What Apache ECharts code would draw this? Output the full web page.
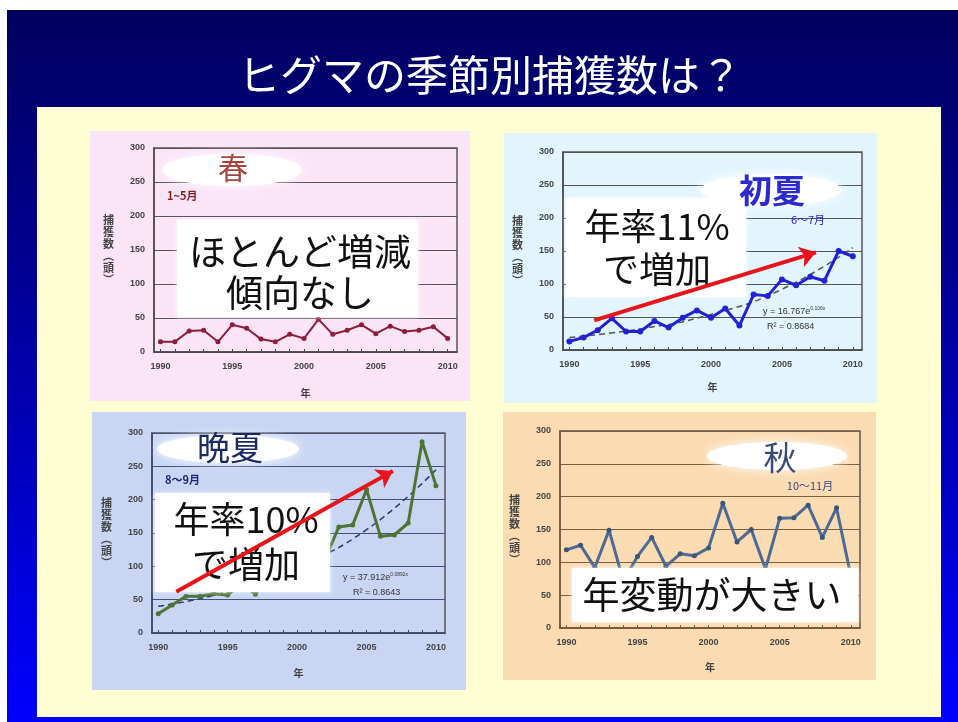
<!DOCTYPE html>
<html><head><meta charset="utf-8">
<script src="https://cdn.jsdelivr.net/npm/echarts@6/dist/echarts.min.js"></script>
<style>html,body{margin:0;padding:0;background:#fff}#c{width:958px;height:722px}</style>
</head><body><div id="c"></div>
<script>
// ---- data ----
const years = [1990,1991,1992,1993,1994,1995,1996,1997,1998,1999,2000,2001,2002,2003,2004,2005,2006,2007,2008,2009,2010];
const xLabelYears = [1990,1995,2000,2005,2010];
const spring      = [15,15,31,32,15,40,35,19,15,26,20,48,26,32,40,27,38,30,32,37,20];
const earlySummer = [13,19,30,48,28,28,44,34,49,60,49,63,37,84,82,107,98,111,105,150,142];
const lateSummer  = [29,42,55,55,59,57,75,58,90,100,95,115,110,159,162,215,145,147,165,287,221];
const autumn      = [119,126,92,149,72,109,138,94,113,110,122,190,131,150,90,167,168,187,138,183,80];
const trendYears  = [1990,1995,2000,2005,2010];
const earlyTrend  = [19,32,54,92,155];
const lateTrend   = [40,62,100,155,245];
const earlyArrow  = [[1991.75,45],[2007.4,148]];
const lateArrow   = [[1991.3,62],[2006.9,243]];
const yMin = 0, yMax = 300, yStep = 50;

const titleText = 'ヒグマの季節別捕獲数は？';
const yName = '捕\n獲\n数\n︵\n頭\n︶';
const xName = '年';

const CJK = '"Noto Sans CJK JP", "Noto Sans CJK SC", sans-serif';
const LAT = '"Liberation Sans", Arial, sans-serif';

const grids = [
  {left:154, top:148, width:303, height:204},
  {left:563, top:152, width:299, height:198},
  {left:152, top:433, width:293, height:200},
  {left:560, top:431, width:300, height:197}
];
const frames = ['#4a4a4a','#4a4a4a','#3a4668','#7a5a36'];
const gridCols = ['#555','#555','#44507a','#7d6040'];
const nameGaps = [36,32,35,34];

const chart = echarts.init(document.getElementById('c'));

const xAxes = grids.map((g,i)=>({
  type:'value', gridIndex:i, min:1989.55, max:2010.65,
  axisLine:{show:true, lineStyle:{color:frames[i], width:1.5}},
  axisTick:{show:true, inside:true, length:3, customValues:years, lineStyle:{color:frames[i]}},
  axisLabel:{customValues:xLabelYears, formatter:v=>String(v), fontSize:9, fontWeight:'bold', color:'#444', margin:10, fontFamily:LAT},
  splitLine:{show:false},
  name:xName, nameLocation:'middle', nameGap:nameGaps[i],
  nameTextStyle:{fontSize:10, fontWeight:'bold', color:'#444', fontFamily:CJK}
}));
const yAxes = grids.map((g,i)=>({
  type:'value', gridIndex:i, min:yMin, max:yMax, interval:yStep,
  axisLine:{show:true, lineStyle:{color:frames[i], width:1.5}},
  axisTick:{show:false},
  axisLabel:{fontSize:9, fontWeight:'bold', color:'#444', margin:9, fontFamily:LAT},
  splitLine:{show:true, lineStyle:{color:gridCols[i], width:1}},
  name:yName, nameLocation:'middle', nameRotate:0, nameGap:40,
  nameTextStyle:{fontSize:11, lineHeight:12, fontWeight:'bold', color:'#444', fontFamily:CJK}
}));

function pts(xs, ys){ return xs.map((x,i)=>[x, ys[i]]); }

const series = [
  {type:'line', xAxisIndex:0, yAxisIndex:0, data:pts(years,spring), symbol:'circle', symbolSize:5,
   lineStyle:{color:'#8c1c3c', width:2}, itemStyle:{color:'#8c1c3c'}, z:3, silent:true, animation:false},
  {type:'line', xAxisIndex:1, yAxisIndex:1, data:pts(trendYears,earlyTrend), smooth:true, symbol:'none',
   lineStyle:{color:'#555', width:1.5, type:[6,4]}, z:2, silent:true, animation:false},
  {type:'line', xAxisIndex:1, yAxisIndex:1, data:pts(years,earlySummer), symbol:'circle', symbolSize:6,
   lineStyle:{color:'#2222d4', width:3}, itemStyle:{color:'#2222d4'}, z:3, silent:true, animation:false},
  {type:'line', xAxisIndex:2, yAxisIndex:2, data:pts(trendYears,lateTrend), smooth:true, symbol:'none',
   lineStyle:{color:'#2a3a70', width:1.5, type:[6,4]}, z:2, silent:true, animation:false},
  {type:'line', xAxisIndex:2, yAxisIndex:2, data:pts(years,lateSummer), symbol:'circle', symbolSize:5,
   lineStyle:{color:'#4e7434', width:3}, itemStyle:{color:'#4e7434'}, z:3, silent:true, animation:false},
  {type:'line', xAxisIndex:3, yAxisIndex:3, data:pts(years,autumn), symbol:'circle', symbolSize:5,
   lineStyle:{color:'#4c6a94', width:3}, itemStyle:{color:'#3c5478'}, z:3, silent:true, animation:false},
  {type:'lines', coordinateSystem:'cartesian2d', xAxisIndex:1, yAxisIndex:1, data:[{coords:earlyArrow}],
   symbol:['none','arrow'], symbolSize:16, lineStyle:{color:'#e8141c', width:4, opacity:1}, z:20, silent:true, animation:false},
  {type:'lines', coordinateSystem:'cartesian2d', xAxisIndex:2, yAxisIndex:2, data:[{coords:lateArrow}],
   symbol:['none','arrow'], symbolSize:16, lineStyle:{color:'#e8141c', width:4, opacity:1}, z:20, silent:true, animation:false}
];

function bigText(x,y,text,size,lh){
  return {type:'text', x:x, y:y, z:10, silent:true,
    style:{text:text, fill:'#111', font:'normal '+size+'px '+CJK, textAlign:'center', textVerticalAlign:'middle', lineHeight:lh}};
}
function txt(x,y,text,size,color,weight,align){
  return {type:'text', x:x, y:y, z:10, silent:true,
    style:{text:text, fill:color, font:(weight||'normal')+' '+size+'px '+CJK, textAlign:align||'center', textVerticalAlign:'middle'}};
}
function blob(cx,cy,rx,ry){
  return {type:'ellipse', z:9, silent:true, shape:{cx:cx, cy:cy, rx:rx, ry:ry},
    style:{fill:'#ffffff', shadowBlur:10, shadowColor:'rgba(255,255,255,0.95)'}};
}
function box(x,y,w,h){
  return {type:'rect', z:9, silent:true, shape:{x:x,y:y,width:w,height:h},
    style:{fill:'#ffffff', shadowBlur:4, shadowColor:'rgba(255,255,255,0.9)'}};
}
function eq(x,y,main,sup){
  return {type:'text', x:x, y:y, z:10, silent:true,
    style:{text:'{a|'+main+'}{s|'+sup+'}', textAlign:'left', textVerticalAlign:'middle',
      rich:{a:{fontSize:9, fill:'#333', fontFamily:LAT}, s:{fontSize:5, fill:'#333', fontFamily:LAT, padding:[0,0,7,0]}}}};
}
function bg(x,y,w,h,fill){
  return {type:'rect', z:-5, silent:true, shape:{x:x,y:y,width:w,height:h}, style:{fill:fill}};
}

const graphic = [
  {type:'rect', z:-10, silent:true, shape:{x:7,y:10,width:951,height:712},
   style:{fill:new echarts.graphic.LinearGradient(0,0,0,1,[{offset:0,color:'#00005e'},{offset:0.5,color:'#0000a8'},{offset:1,color:'#0000ff'}])}},
  {type:'rect', z:-8, silent:true, shape:{x:37,y:107,width:904,height:610}, style:{fill:'#fffdd2'}},
  bg(90,131,380,270,'#fbe4f6'),
  bg(504,133,373,270,'#e2f5fc'),
  bg(92,412,374,278,'#c8d6f3'),
  bg(503,412,373,268,'#fadbb2'),
  {type:'text', x:490, y:75, z:10, silent:true,
   style:{text:titleText, fill:'#ffffff', font:'normal 42px '+CJK, textAlign:'center', textVerticalAlign:'middle',
     shadowColor:'rgba(0,0,0,0.8)', shadowBlur:2, shadowOffsetX:1, shadowOffsetY:2}},
  // spring
  blob(232,170,70,16),
  txt(233,168,'春',30,'#a5443c'),
  txt(167,196,'1~5月',11,'#8a1a1a','bold','left'),
  box(177,220,241,97),
  bigText(300,272,'ほとんど増減\n傾向なし',37,41),
  // early summer
  blob(771,190,70,16),
  txt(772,190,'初夏',33,'#2a2ad0','bold'),
  txt(808,220,'6～7月',11,'#2a2ad0'),
  box(566,198,180,99),
  bigText(657,248,'年率11%\nで増加',36,43),
  eq(763,312,'y = 16.767e','0.106x'),
  {type:'text', x:767, y:327, z:10, silent:true, style:{text:'R² = 0.8684', fill:'#333', font:'9px '+LAT, textAlign:'left', textVerticalAlign:'middle'}},
  // late summer
  blob(228,449,71,14),
  txt(230,447,'晩夏',33,'#1a2a60'),
  txt(165,480,'8～9月',11,'#1a2a70','bold','left'),
  box(155,493,175,99),
  bigText(246,542,'年率10%\nで増加',36,45),
  eq(343,578,'y = 37.912e','0.0892x'),
  {type:'text', x:353, y:593, z:10, silent:true, style:{text:'R² = 0.8643', fill:'#333', font:'9px '+LAT, textAlign:'left', textVerticalAlign:'middle'}},
  // autumn
  blob(777,456,70,14),
  txt(780,457,'秋',33,'#3a4a78'),
  txt(810,486,'10～11月',11,'#3a4a88'),
  box(572,568,286,54),
  bigText(712,595,'年変動が大きい',37,40)
];

chart.setOption({
  animation:false,
  backgroundColor:'#ffffff',
  grid: grids.map(g=>Object.assign({show:true, borderColor:'#555', borderWidth:1.5, backgroundColor:'transparent'}, g)),
  xAxis:xAxes, yAxis:yAxes, series:series, graphic:graphic
});
</script></body></html>
